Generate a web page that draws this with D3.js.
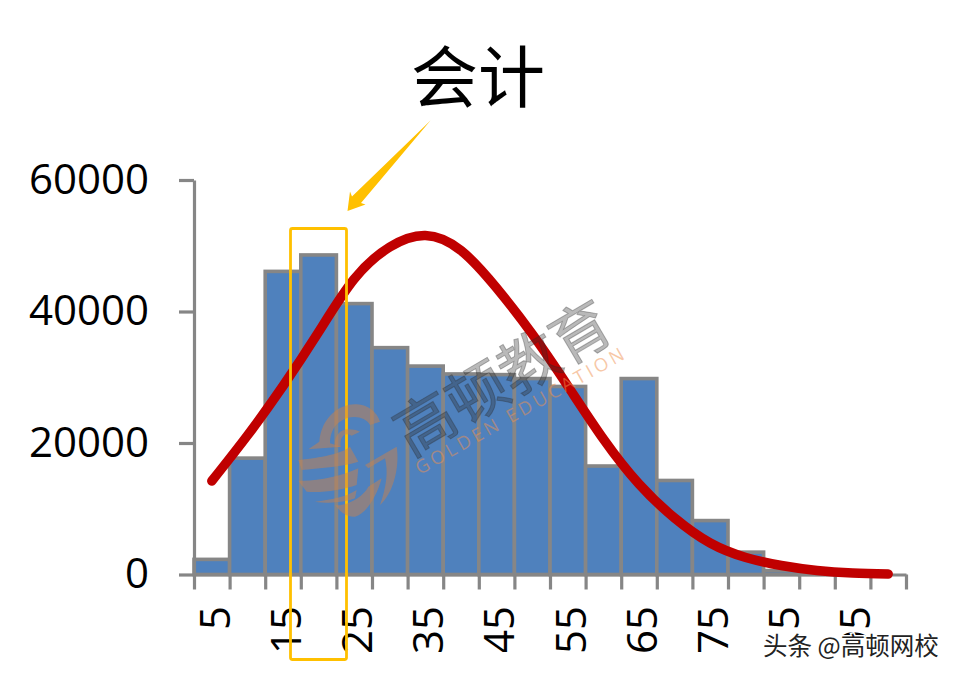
<!DOCTYPE html>
<html>
<head>
<meta charset="utf-8">
<script src="https://cdn.jsdelivr.net/npm/d3@7/dist/d3.min.js"></script>
<style>
html,body{margin:0;padding:0;background:#fff}
svg{display:block}
</style>
</head>
<body>
<svg id="chart" width="956" height="678"></svg>
<script>
const titleText = "会计";
const ageBins = [5,10,15,20,25,30,35,40,45,50,55,60,65,70,75,80,85,90,95,100];
const counts = [2300,17700,46100,48600,41200,34500,31700,30500,30400,29800,28600,16500,29800,14300,8200,3400,600,200,100,0];
const fitted = [14220,21140,28670,36880,44940,49810,51560,49280,43570,36580,28670,20610,13760,8590,4790,2590,1370,610,230,80];
const yTicks = [0,20000,40000,60000];
const labelledBins = [5,15,25,35,45,55,65,75,85,95];
const wmCn = "高顿教育";
const wmEn = "GOLDEN EDUCATION";
const sourceMark = "头条 @高顿网校";

const svg = d3.select("#chart");
const GRAY = "#868686", GOLD = "#FFC000";
const CJK = "'Noto Sans CJK SC','Noto Sans',sans-serif";
const LATIN = "'Open Sans','Noto Sans',sans-serif";

const xBand = d3.scaleBand().domain(ageBins).range([194,906]).paddingInner(0).paddingOuter(0);
const xEdge = d3.scaleLinear().domain([0,ageBins.length]).range([194,906]);
const y = d3.scaleLinear().domain([0,60000]).range([574.5,180]);

// bars
svg.append("g").selectAll("rect").data(ageBins).join("rect")
  .attr("x", d=>xBand(d)).attr("width", xBand.bandwidth())
  .attr("y", (d,i)=>y(counts[i])).attr("height",(d,i)=>y(0)-y(counts[i]))
  .attr("fill","#4F81BD").attr("stroke",GRAY).attr("stroke-width",3.6);

// axes
const yAxis = svg.append("g").attr("transform","translate(194,0)")
  .call(d3.axisLeft(y).tickValues(yTicks).tickSize(15).tickSizeOuter(0).tickPadding(30).tickFormat(d3.format("d")));
const xAxis = svg.append("g").attr("transform","translate(0,574.5)")
  .call(d3.axisBottom(xEdge).tickValues(d3.range(0,ageBins.length+1)).tickSize(15).tickSizeOuter(0).tickFormat(""));
[yAxis,xAxis].forEach(a=>{
  a.selectAll("path.domain").attr("stroke",GRAY).attr("stroke-width",3.2);
  a.selectAll("line").attr("stroke",GRAY).attr("stroke-width",3.2);
});
yAxis.selectAll("text").attr("font-family",LATIN).attr("font-size",42).attr("fill","#000");

// x labels, cut off at the bottom edge of the plot picture
svg.append("clipPath").attr("id","labelClip").append("rect").attr("x",0).attr("y",590).attr("width",956).attr("height",62);
svg.append("g").attr("clip-path","url(#labelClip)")
  .selectAll("text").data(labelledBins).join("text")
  .attr("transform",d=>`translate(${xBand(d)+xBand.bandwidth()},606) rotate(-90)`)
  .attr("text-anchor","end")
  .attr("font-family",LATIN).attr("font-size",42).attr("fill","#000")
  .text(d=>d);

// fitted curve
const line = d3.line().x((d,i)=>xBand(ageBins[i])+xBand.bandwidth()/2).y(d=>y(d)).curve(d3.curveNatural);
svg.append("path").attr("d",line(fitted)).attr("fill","none")
  .attr("stroke","#C00000").attr("stroke-width",9.5).attr("stroke-linecap","round");

// highlight box and arrow
svg.append("rect").attr("x",290.5).attr("y",228.5).attr("width",56).attr("height",431).attr("rx",2)
  .attr("fill","none").attr("stroke",GOLD).attr("stroke-width",2.8);
svg.append("path").attr("d","M430.5,120.5 L361,203 L365.5,204.5 L347.5,211 L350,191.5 L352,196.5 Z").attr("fill",GOLD);

// title
svg.append("text").attr("x",478).attr("y",102).attr("text-anchor","middle")
  .attr("font-family",CJK).attr("font-size",67).attr("fill","#000").text(titleText);

// publisher watermark
const wm = svg.append("g");
const logo = wm.append("g").attr("transform","translate(280,290) scale(0.3333)")
  .attr("fill","#C8824E").attr("fill-opacity",0.5);
[
 "M118,455 C125,380 180,340 230,343 C265,345 290,365 300,395 L270,405 C255,380 215,372 180,395 C155,412 150,440 150,460 L185,470 L85,478 Z",
 "M165,470 C160,430 190,405 240,425 L215,437 C195,425 178,440 182,470 Z",
 "M55,510 C100,505 180,495 210,470 L235,515 C190,530 110,535 65,540 Z",
 "M55,572 C110,575 180,560 235,535 L230,585 C190,600 120,610 80,605 Z",
 "M105,635 C150,630 200,620 230,600 L225,625 C190,640 140,640 105,635 Z",
 "M255,525 L350,470 C360,530 340,610 300,645 C320,590 325,545 315,505 L265,535 Z",
 "M165,645 C200,650 250,620 265,590 L305,565 C290,620 260,670 225,680 C200,682 180,665 165,645 Z"
].forEach(d=>logo.append("path").attr("d",d));
wm.append("text").attr("transform","translate(503,378) rotate(-30.5)")
  .attr("text-anchor","middle").attr("dy","0.36em")
  .attr("font-family",CJK).attr("font-size",60)
  .attr("fill","#2b2b2b").attr("fill-opacity",0.33)
  .attr("stroke","#2b2b2b").attr("stroke-opacity",0.33).attr("stroke-width",1).text(wmCn);
wm.append("text").attr("transform","translate(521,410) rotate(-29.5)")
  .attr("text-anchor","middle").attr("dy","0.36em")
  .attr("font-family",LATIN).attr("font-size",18.5).attr("letter-spacing",3.5)
  .attr("fill","#F0914F").attr("fill-opacity",0.5).text(wmEn);

// source mark: white halo hides what is under it
svg.append("rect").attr("x",762).attr("y",632).attr("width",45).attr("height",21).attr("fill","#fff");
svg.append("rect").attr("x",836).attr("y",638).attr("width",40).attr("height",15).attr("fill","#fff");
svg.append("text").attr("x",763).attr("y",655)
  .attr("font-family",CJK).attr("font-size",24.5).attr("fill","#222")
  .attr("stroke","#fff").attr("stroke-width",3).attr("paint-order","stroke")
  .text(sourceMark);
</script>
</body>
</html>
